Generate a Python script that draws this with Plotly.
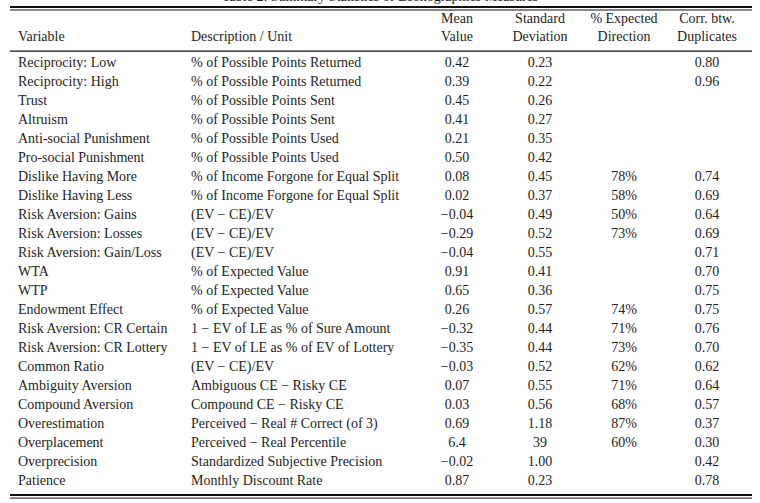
import plotly.graph_objects as go

title = "Table 2: Summary Statistics of Econographics Measures"

header_top = ["", "", "Mean", "Standard", "% Expected", "Corr. btw."]
header_bottom = ["Variable", "Description / Unit", "Value", "Deviation", "Direction", "Duplicates"]

variables = [
    "Reciprocity: Low", "Reciprocity: High", "Trust", "Altruism",
    "Anti-social Punishment", "Pro-social Punishment", "Dislike Having More",
    "Dislike Having Less", "Risk Aversion: Gains", "Risk Aversion: Losses",
    "Risk Aversion: Gain/Loss", "WTA", "WTP", "Endowment Effect",
    "Risk Aversion: CR Certain", "Risk Aversion: CR Lottery", "Common Ratio",
    "Ambiguity Aversion", "Compound Aversion", "Overestimation",
    "Overplacement", "Overprecision", "Patience",
]
descriptions = [
    "% of Possible Points Returned", "% of Possible Points Returned",
    "% of Possible Points Sent", "% of Possible Points Sent",
    "% of Possible Points Used", "% of Possible Points Used",
    "% of Income Forgone for Equal Split", "% of Income Forgone for Equal Split",
    "(EV \u2212 CE)/EV", "(EV \u2212 CE)/EV", "(EV \u2212 CE)/EV",
    "% of Expected Value", "% of Expected Value", "% of Expected Value",
    "1 \u2212 EV of LE as % of Sure Amount", "1 \u2212 EV of LE as % of EV of Lottery",
    "(EV \u2212 CE)/EV", "Ambiguous CE \u2212 Risky CE", "Compound CE \u2212 Risky CE",
    "Perceived \u2212 Real # Correct (of 3)", "Perceived \u2212 Real Percentile",
    "Standardized Subjective Precision", "Monthly Discount Rate",
]
mean_value = ["0.42", "0.39", "0.45", "0.41", "0.21", "0.50", "0.08", "0.02",
              "\u22120.04", "\u22120.29", "\u22120.04", "0.91", "0.65", "0.26",
              "\u22120.32", "\u22120.35", "\u22120.03", "0.07", "0.03", "0.69",
              "6.4", "\u22120.02", "0.87"]
std_dev = ["0.23", "0.22", "0.26", "0.27", "0.35", "0.42", "0.45", "0.37",
           "0.49", "0.52", "0.55", "0.41", "0.36", "0.57", "0.44", "0.44",
           "0.52", "0.55", "0.56", "1.18", "39", "1.00", "0.23"]
pct_expected = ["", "", "", "", "", "", "78%", "58%", "50%", "73%", "", "", "",
                "74%", "71%", "73%", "62%", "71%", "68%", "87%", "60%", "", ""]
corr_dup = ["0.80", "0.96", "", "", "", "", "0.74", "0.69", "0.64", "0.69",
            "0.71", "0.70", "0.75", "0.75", "0.76", "0.70", "0.62", "0.64",
            "0.57", "0.37", "0.30", "0.42", "0.78"]

columns = [variables, descriptions, mean_value, std_dev, pct_expected, corr_dup]

# layout (positions / styles)
col_x = [18, 191, 457, 540, 624, 707]
col_pos = ["middle right", "middle right", "middle center", "middle center",
           "middle center", "middle center"]
FONT = dict(family="Liberation Serif, Times New Roman, serif", size=14, color="#1e1e1e")
n = len(variables)
rows = list(range(n))

fig = go.Figure()
for xs, col, pos in zip(col_x, columns, col_pos):
    fig.add_trace(go.Scatter(
        x=[xs] * n, y=rows, text=col, mode="text", textposition=pos,
        textfont=FONT, hoverinfo="skip", showlegend=False, cliponaxis=False,
    ))
# headers
for xs, top, bot, pos in zip(col_x, header_top, header_bottom, col_pos):
    fig.add_trace(go.Scatter(
        x=[xs, xs], y=[-2.27, -1.36], text=[top, bot], mode="text", textposition=pos,
        textfont=FONT, hoverinfo="skip", showlegend=False, cliponaxis=False,
    ))

x0, x1 = 10, 752
rules = [(-2.95, 2.0), (-2.79, 1.0), (-0.63, 1.3), (n - 0.26, 2.0), (n - 0.10, 1.0)]
for yv, w in rules:
    fig.add_shape(type="line", xref="x", yref="y", x0=x0, x1=x1, y0=yv, y1=yv,
                  line=dict(color="#111", width=w))

fig.add_annotation(text=title, xref="x", yref="paper", x=380, y=1, yanchor="middle",
                   yshift=4, showarrow=False, font=FONT)

fig.update_xaxes(range=[0, 760], visible=False, fixedrange=True)
fig.update_yaxes(range=[(503 - 63) / 19, -63 / 19], visible=False, fixedrange=True)
fig.update_layout(width=760, height=503, margin=dict(l=0, r=0, t=0, b=0),
                  paper_bgcolor="white", plot_bgcolor="white")
fig.write_html("out.html", config={"displayModeBar": False},
               post_script="document.body.style.margin='0';document.body.style.overflow='hidden';")
